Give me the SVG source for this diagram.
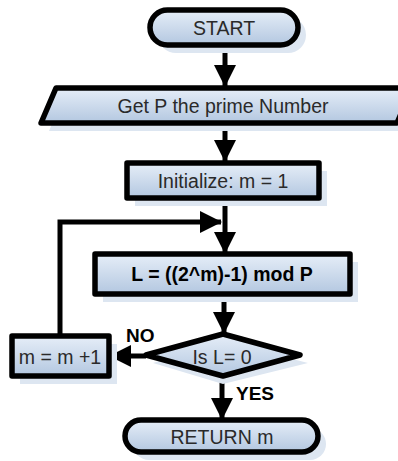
<svg xmlns="http://www.w3.org/2000/svg" width="398" height="461" viewBox="0 0 398 461">
<defs>
<linearGradient id="g" x1="0" y1="0" x2="0" y2="1">
<stop offset="0" stop-color="#e6eef8"/>
<stop offset="1" stop-color="#b3c7e0"/>
</linearGradient>
<marker id="ah" markerUnits="userSpaceOnUse" markerWidth="22" markerHeight="22" viewBox="0 0 22 22" refX="21" refY="11" orient="auto">
<path d="M0,0 L22,11 L0,22 Z" fill="#000"/>
</marker>
</defs>
<style>
.sh{fill:#dde6f1}
.n{fill:url(#g);stroke:#000;stroke-width:5.5;stroke-linejoin:round}
.t{font-family:"Liberation Sans",Arial,sans-serif;font-size:19.5px;fill:#2a2a2a;text-anchor:middle;dominant-baseline:central}
.b{font-weight:bold;fill:#000}
.c{fill:none;stroke:#000;stroke-width:5}
.l{font-family:"Liberation Sans",Arial,sans-serif;font-size:19px;font-weight:bold;fill:#000}
</style>
<g id="connectors">
<line class="c" x1="225" y1="46" x2="225" y2="86" marker-end="url(#ah)"/>
<line class="c" x1="225" y1="124" x2="225" y2="161" marker-end="url(#ah)"/>
<line class="c" x1="225" y1="199" x2="225" y2="253" marker-end="url(#ah)"/>
<polyline class="c" points="60,336 60,222 221,222" marker-end="url(#ah)"/>
<line class="c" x1="224" y1="295" x2="224" y2="333" marker-end="url(#ah)"/>
<line class="c" x1="146" y1="356" x2="110" y2="356" marker-end="url(#ah)"/>
<line class="c" x1="222" y1="376" x2="222" y2="419" marker-end="url(#ah)"/>
<text class="l" x="126" y="342">NO</text>
<text class="l" x="236" y="400">YES</text>
</g>
<g id="start">
<rect class="sh" x="158" y="17" width="148" height="36" rx="18"/>
<rect class="n" x="150" y="10" width="148" height="35" rx="17.5"/>
<text class="t" x="224" y="28">START</text>
</g>
<g id="input">
<polygon class="sh" points="64,95 420,95 405,131 49,131"/>
<polygon class="n" points="56,88 412,88 397,123 41,123"/>
<text class="t" x="223" y="106">Get P the prime Number</text>
</g>
<g id="init">
<rect class="sh" x="135" y="171" width="192" height="35"/>
<rect class="n" x="127" y="163" width="192" height="35"/>
<text class="t" x="223" y="181">Initialize: m = 1</text>
</g>
<g id="compute">
<rect class="sh" x="103" y="262" width="255" height="40"/>
<rect class="n" x="95" y="254" width="255" height="40"/>
<text class="t b" x="222" y="274">L = ((2^m)-1) mod P</text>
</g>
<g id="decision">
<polygon class="sh" points="223,341 308,363 223,384 153,363"/>
<polygon class="n" points="223,334 300,355 223,376 146,355"/>
<text class="t" x="222" y="357">Is L= 0</text>
</g>
<g id="increment">
<rect class="sh" x="20" y="344" width="97" height="40"/>
<rect class="n" x="12" y="336" width="97" height="40"/>
<text class="t" x="60" y="357">m = m +1</text>
</g>
<g id="return">
<rect class="sh" x="133" y="428" width="193" height="32" rx="16"/>
<rect class="n" x="125" y="420" width="193" height="32" rx="16"/>
<text class="t" x="222" y="437">RETURN m</text>
</g>
</svg>
